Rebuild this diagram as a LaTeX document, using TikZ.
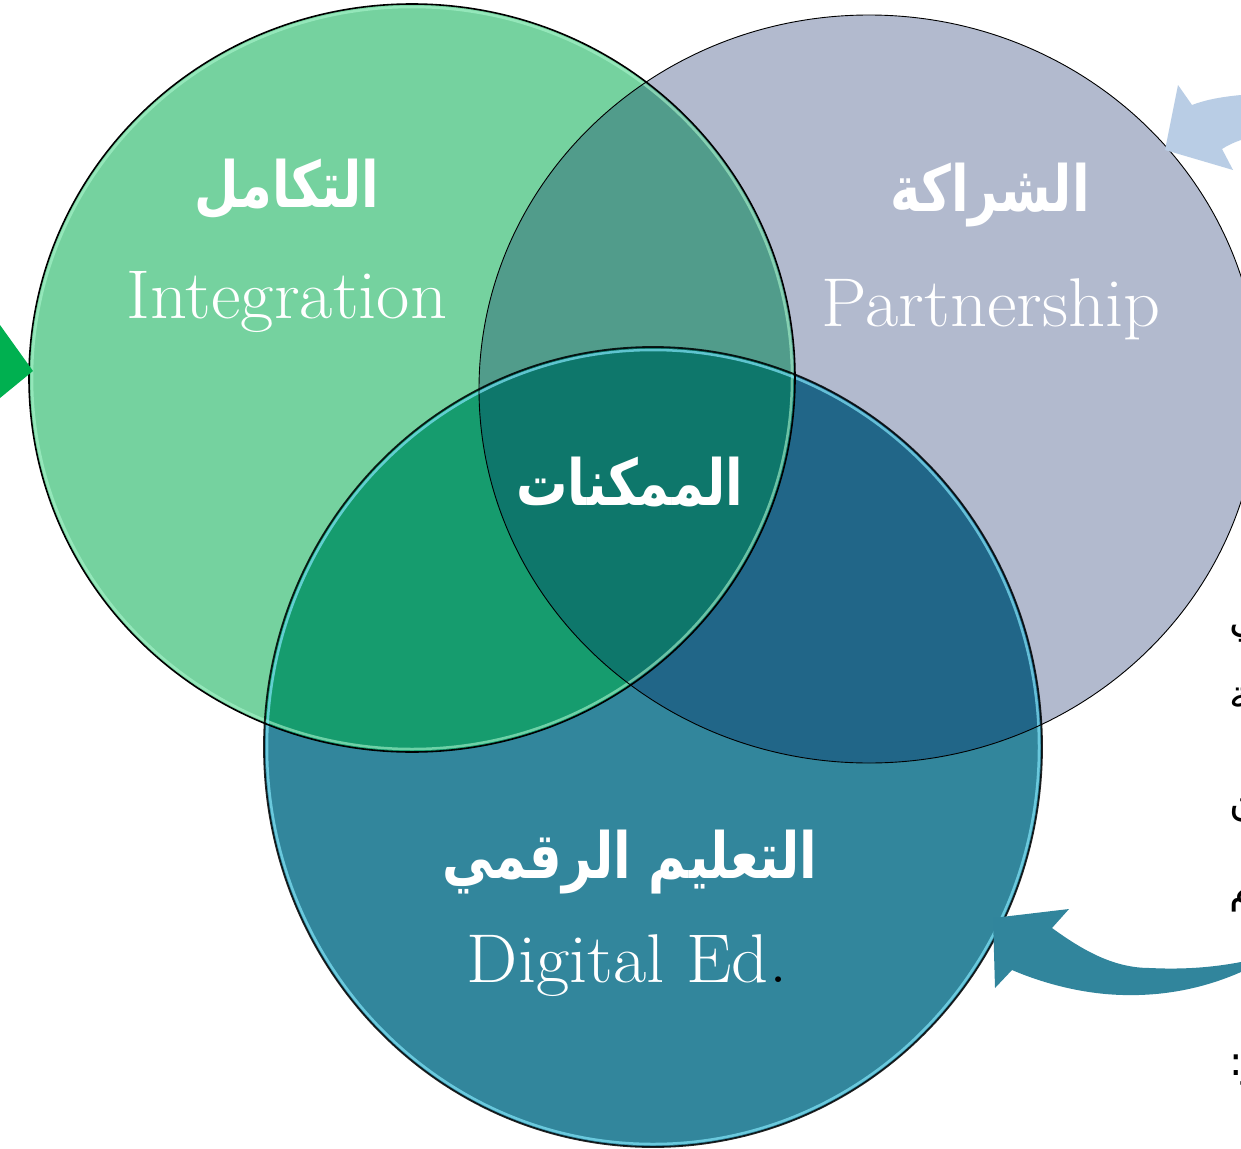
\documentclass[tikz,border=0pt]{standalone}
\usepackage{fontspec}
\newfontfamily\arabicfont[Script=Arabic]{DejaVu Sans}
\TeXXeTstate=1
\definecolor{cGreen}{HTML}{75D29F}
\definecolor{cGray}{HTML}{B2BACE}
\definecolor{cTeal}{HTML}{32869C}
\definecolor{cGG}{HTML}{519C8B}
\definecolor{cGT}{HTML}{169C6E}
\definecolor{cYT}{HTML}{216688}
\definecolor{cAll}{HTML}{0E776B}
\definecolor{arrGreen}{HTML}{00B050}
\definecolor{arrBlue}{HTML}{B9CDE5}
\definecolor{arrTeal}{HTML}{31859C}
\newcommand{\arscale}[1]{\scalebox{0.9}[1.12]{#1}}
\newcommand{\enscale}[1]{\scalebox{1.05}[1.0]{#1}}
\tikzset{
  pG/.style={insert path={(412,378) ellipse [x radius=383, y radius=374]}},
  pY/.style={insert path={(869,389) ellipse [x radius=390, y radius=374]}},
  pT/.style={insert path={(653,747) ellipse [x radius=389, y radius=400]}},
  arlabel/.style={text=white, inner sep=0pt, anchor=base, font=\arabicfont\bfseries\fontsize{57}{62}\selectfont},
  enlabel/.style={text=white, inner sep=0pt, anchor=base, font=\fontsize{69}{72}\selectfont},
  fragment/.style={text=black, inner sep=0pt, anchor=base west, font=\arabicfont\fontsize{40}{44}\selectfont}
}
\begin{document}
\begin{tikzpicture}[x=1pt,y=-1pt]
\clip (0,0) rectangle (1241,1148);
\fill[white] (0,0) rectangle (1241,1148);
% fills
\fill[cGreen, pG];
\fill[cGray, pY];
\begin{scope}\clip[pG]; \fill[cGG, pY];\end{scope}
\fill[cTeal, pT];
\begin{scope}\clip[pG]; \fill[cGT, pT];\end{scope}
\begin{scope}\clip[pY]; \fill[cYT, pT];\end{scope}
\begin{scope}\clip[pG]; \clip[pY]; \fill[cAll, pT];\end{scope}
% bevel highlights
\draw[draw={rgb,255:red,170;green,245;blue,205}, line width=2.5, opacity=0.6] (412,378) ellipse [x radius=380, y radius=371];
\draw[draw={rgb,255:red,130;green,230;blue,250}, line width=2.5, opacity=0.7] (653,747) ellipse [x radius=386, y radius=397];
% outlines
\draw[black, line width=1.6, pG];
\draw[black, line width=0.9, pY];
\draw[black, opacity=0.85, line width=1.8, pT];
% labels
\node[arlabel] (arG) at (287,207) {\arscale{\beginR التكامل\endR}};
\node[enlabel] (enG) at (287,318) {\enscale{Integration}};
\node[arlabel] (arY) at (990,211) {\arscale{\beginR الشراكة\endR}};
\node[enlabel] (enY) at (991,326) {\enscale{Partnership}};
\node[arlabel] (arC) at (630,505) {\arscale{\beginR الممكنات\endR}};
\node[arlabel] (arT) at (630,878) {\arscale{\beginR التعليم الرقمي\endR}};
\node[enlabel] (enT) at (627,982) {\enscale{Digital Ed\textcolor{black}{.}}};
% cut-off text at the right edge (as in the reference)
\node[fragment] (f1) at (1229,632) {\beginR تكاملي\endR};
\node[fragment] (f2) at (1229,708) {\beginR الشراكة\endR};
\node[fragment] (f3) at (1229,812) {\beginR التمكين\endR};
\node[fragment] (f4) at (1229,902) {\beginR التعليم\endR};
\node[fragment] (f5) at (1229,1075) {\beginR المحاور:\endR};
% arrows
\fill[arrGreen] (0,325) -- (33,371) -- (0,398) -- cycle;
\fill[arrBlue] (1241,95) .. controls (1220,97) and (1205,100) .. (1192,105) -- (1178,85) -- (1165,150) -- (1233,170) -- (1222,149) .. controls (1228,145) and (1235,142) .. (1241,140) -- cycle;
\fill[arrTeal] (993,918) -- (1069,909) -- (1052,928) .. controls (1085,952) and (1115,968) .. (1150,968) .. controls (1190,970) and (1220,966) .. (1241,962) -- (1241,972) .. controls (1200,990) and (1160,996) .. (1123,995) .. controls (1080,994) and (1040,982) .. (1012,970) -- (995,988) -- cycle;
\end{tikzpicture}
\end{document}
